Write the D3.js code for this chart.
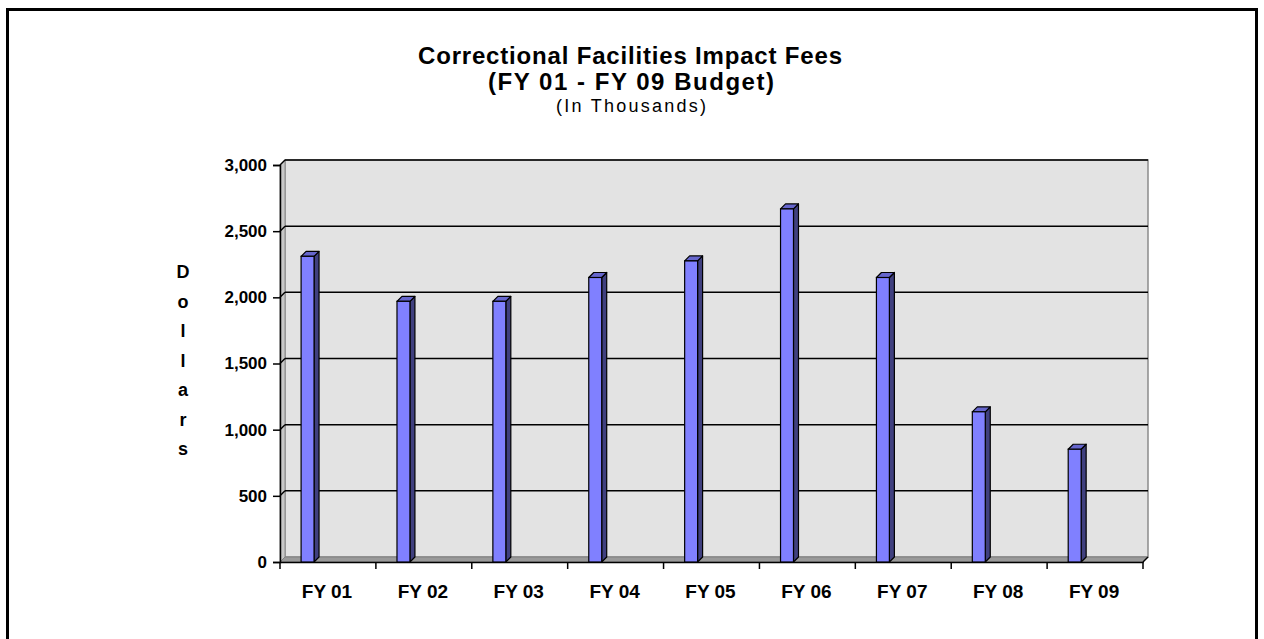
<!DOCTYPE html>
<html>
<head>
<meta charset="utf-8">
<script src="https://cdn.jsdelivr.net/npm/d3@7"></script>
<style>
  html, body { margin: 0; padding: 0; background: #fff; }
  svg { display: block; font-family: Arial, "Liberation Sans", sans-serif; }
</style>
</head>
<body>
<svg id="chart" width="1264" height="639"></svg>
<script>
const categories = ["FY 01","FY 02","FY 03","FY 04","FY 05","FY 06","FY 07","FY 08","FY 09"];
const values = [2310, 1970, 1970, 2150, 2275, 2668, 2150, 1135, 852];
const yTicks = [0, 500, 1000, 1500, 2000, 2500, 3000];
const titleLines = ["Correctional Facilities Impact Fees", "(FY 01 - FY 09 Budget)"];
const subtitle = "(In Thousands)";
const yTitle = "Dollars";

(function () {
const svg = d3.select("#chart");
const FONT = "Arial, 'Liberation Sans', sans-serif";

// outer frame
svg.append("rect").attr("x", 7.5).attr("y", 9.5).attr("width", 1249).attr("height", 640)
  .attr("fill", "#fff").attr("stroke", "#000").attr("stroke-width", 3);

const pLeft = 280, pRight = 1143, pBottom = 562, pTop = 165;
const dx = 5, dy = -5;

const x = d3.scaleBand().domain(categories).range([pLeft, pRight]).paddingInner(0).paddingOuter(0);
const y = d3.scaleLinear().domain([0, 3000]).range([pBottom, pTop]);

const g = svg.append("g");

// back wall
g.append("polygon")
  .attr("points", [[pLeft+dx, pBottom+dy],[pRight+dx, pBottom+dy],[pRight+dx, pTop+dy],[pLeft+dx, pTop+dy]].join(" "))
  .attr("fill", "#e3e3e3").attr("stroke", "#8c8c8c").attr("stroke-width", 1.5);
// left side wall
g.append("polygon")
  .attr("points", [[pLeft, pBottom],[pLeft+dx, pBottom+dy],[pLeft+dx, pTop+dy],[pLeft, pTop]].join(" "))
  .attr("fill", "#c8c8c8").attr("stroke", "#8c8c8c").attr("stroke-width", 1);
// floor
g.append("polygon")
  .attr("points", [[pLeft, pBottom],[pRight, pBottom],[pRight+dx, pBottom+dy],[pLeft+dx, pBottom+dy]].join(" "))
  .attr("fill", "#9a9a9a").attr("stroke", "#808080").attr("stroke-width", 1);

// gridlines
yTicks.filter(v => v > 0).forEach(v => {
  g.append("line").attr("x1", pLeft+dx).attr("x2", pRight+dx)
    .attr("y1", y(v)+dy).attr("y2", y(v)+dy)
    .attr("stroke", "#000").attr("stroke-width", 1.5);
  g.append("line").attr("x1", pLeft).attr("x2", pLeft+dx)
    .attr("y1", y(v)).attr("y2", y(v)+dy)
    .attr("stroke", "#000").attr("stroke-width", 1.5);
});

// y axis
const yAxis = d3.axisLeft(y).tickValues(yTicks).tickSize(7).tickPadding(6)
  .tickFormat(d3.format(","));
const ya = g.append("g").attr("transform", `translate(${pLeft},0)`).call(yAxis);
ya.select(".domain").attr("stroke", "#000").attr("stroke-width", 1.5);
ya.selectAll(".tick line").attr("stroke", "#000").attr("stroke-width", 1.5);
ya.selectAll("text").attr("font-size", 17).attr("font-weight", "bold").attr("fill", "#000")
  .attr("font-family", FONT);

// x axis
const xAxis = d3.axisBottom(x).tickSize(0).tickPadding(23);
const xa = g.append("g").attr("transform", `translate(0,${pBottom})`).call(xAxis);
xa.select(".domain").attr("stroke", "#000").attr("stroke-width", 1.5);
xa.selectAll("text").attr("font-size", 19).attr("font-weight", "bold").attr("fill", "#000")
  .attr("font-family", FONT).attr("dx", -1);
const bounds = categories.map(c => x(c)).concat([pRight]);
g.selectAll(".xb").data(bounds).enter().append("line")
  .attr("x1", d => d).attr("x2", d => d).attr("y1", pBottom).attr("y2", pBottom+7)
  .attr("stroke", "#000").attr("stroke-width", 1.5);
g.append("line").attr("x1", pRight).attr("x2", pRight+dx).attr("y1", pBottom).attr("y2", pBottom+dy)
  .attr("stroke", "#000").attr("stroke-width", 1.5);

// bars
const bw = x.bandwidth();
const barOff = bw * 0.22, barW = bw * 0.135;
const bars = g.selectAll(".bar").data(categories.map((c, i) => ({c, v: values[i]}))).enter().append("g");
bars.append("polygon")
  .attr("points", d => {
    const x0 = x(d.c) + barOff + barW, yt = y(d.v);
    return [[x0, yt],[x0+dx, yt+dy],[x0+dx, pBottom+dy],[x0, pBottom]].join(" ");
  })
  .attr("fill", "#40407f").attr("stroke", "#000").attr("stroke-width", 1.2).attr("stroke-linejoin", "round");
bars.append("polygon")
  .attr("points", d => {
    const x0 = x(d.c) + barOff, yt = y(d.v);
    return [[x0, yt],[x0+dx, yt+dy],[x0+barW+dx, yt+dy],[x0+barW, yt]].join(" ");
  })
  .attr("fill", "#6666cc").attr("stroke", "#000").attr("stroke-width", 1.2).attr("stroke-linejoin", "round");
bars.append("rect")
  .attr("x", d => x(d.c) + barOff).attr("width", barW)
  .attr("y", d => y(d.v)).attr("height", d => pBottom - y(d.v))
  .attr("fill", "#8080ff").attr("stroke", "#000").attr("stroke-width", 1.2);

// titles
svg.append("text").attr("x", 630).attr("y", 64).attr("text-anchor", "middle")
  .attr("font-size", 24).attr("font-weight", "bold")
  .attr("textLength", 424).attr("lengthAdjust", "spacing").text(titleLines[0]);
svg.append("text").attr("x", 631).attr("y", 90).attr("text-anchor", "middle")
  .attr("font-size", 24).attr("font-weight", "bold")
  .attr("textLength", 286).attr("lengthAdjust", "spacing").text(titleLines[1]);
svg.append("text").attr("x", 631).attr("y", 112).attr("text-anchor", "middle")
  .attr("font-size", 18)
  .attr("textLength", 150).attr("lengthAdjust", "spacing").text(subtitle);

// vertical y title (stacked letters)
const yt = svg.append("text").attr("text-anchor", "middle").attr("font-size", 18).attr("font-weight", "bold");
yTitle.split("").forEach((ch, i) => {
  yt.append("tspan").attr("x", 183).attr("y", 278 + i * 29.5).text(ch);
});
})();
</script>
</body>
</html>
